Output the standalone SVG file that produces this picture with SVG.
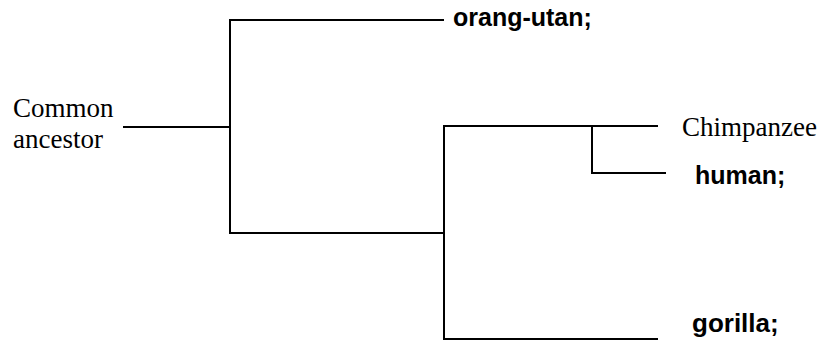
<svg xmlns="http://www.w3.org/2000/svg" width="822" height="341" viewBox="0 0 822 341">
<style>
.ln{stroke:#000;stroke-width:2;fill:none;stroke-linecap:square}
.serif{font-family:"Liberation Serif","Times New Roman",serif;font-size:27px;fill:#000}
.bold{font-family:"Liberation Sans",Arial,sans-serif;font-size:25px;font-weight:bold;fill:#000}
</style>
<rect width="822" height="341" fill="#fff"/>
<g id="connectors">
<path class="ln" d="M124,127 H230"/>
<path class="ln" d="M230,20 V233"/>
<path class="ln" d="M230,20 H443"/>
<path class="ln" d="M230,233 H444"/>
<path class="ln" d="M444,126 V339"/>
<path class="ln" d="M444,126 H657"/>
<path class="ln" d="M592,126 V173"/>
<path class="ln" d="M592,173 H665"/>
<path class="ln" d="M444,339 H657"/>
</g>
<g id="common-ancestor"><text class="serif" x="13" y="117">Common</text><text class="serif" x="13" y="148">ancestor</text></g>
<g id="orang-utan"><text class="bold" x="453" y="26">orang-utan;</text></g>
<g id="chimpanzee"><text class="serif" x="682" y="136">Chimpanzee</text></g>
<g id="human"><text class="bold" x="695" y="184">human;</text></g>
<g id="gorilla"><text class="bold" x="692" y="332" style="font-size:26px">gorilla;</text></g>
</svg>
